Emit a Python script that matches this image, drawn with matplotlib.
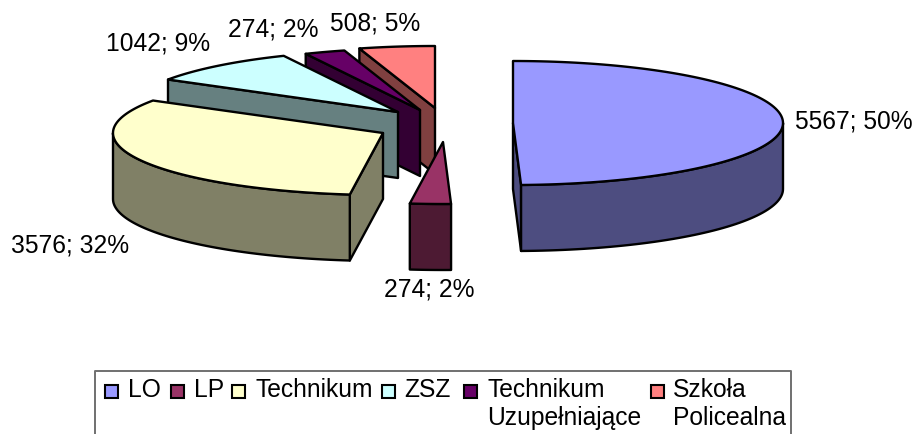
import numpy as np
import matplotlib
matplotlib.use('Agg')
import matplotlib.pyplot as plt
from matplotlib.patches import Polygon, Rectangle

plt.rcParams['font.family'] = ['Liberation Sans', 'DejaVu Sans']

# data
names = ['LO', 'LP', 'Technikum', 'ZSZ', 'Technikum\nUzupełniające', 'Szkoła\nPolicealna']
values = [5567, 274, 3576, 1042, 274, 508]
percents = [50, 2, 32, 9, 2, 5]

colors = ['#9999FF', '#993366', '#FFFFCC', '#CCFFFF', '#660066', '#FF8080']
walls = ['#4D4D80', '#4D1A33', '#808066', '#668080', '#330033', '#804040']

# where each exploded slice has its tip, in pixels
tips = [(513, 123), (443, 142), (383, 133), (398, 112), (420, 110), (435, 108)]
label_pos = [(795, 121), (384, 290), (11, 245), (106, 44), (228, 30), (330, 24)]
legend_marks = [111, 177, 238, 388, 470, 657]
legend_text = [128, 194, 256, 404, 487, 673]

rx, ry, depth = 270, 62, 66
fs = 17.7

fig = plt.figure(figsize=(9.14, 4.34), dpi=100)
ax = fig.add_axes([0, 0, 1, 1])
ax.set_xlim(0, 914)
ax.set_ylim(434, 0)
ax.axis('off')


def rim(tip, a):
    a = np.radians(a)
    return np.column_stack([tip[0] + rx * np.sin(a), tip[1] - ry * np.cos(a)])


def face(pts, color, z):
    ax.add_patch(Polygon(pts, closed=True, facecolor=color, edgecolor='black',
                         linewidth=1.7, joinstyle='round', zorder=z))


angles = np.cumsum([0] + values) / sum(values) * 360

# back slices first, LO last
for z, i in enumerate([5, 4, 3, 2, 1, 0]):
    a1, a2 = angles[i], angles[i + 1]
    tip = tips[i]
    base = z * 10

    # cut face looking at the viewer
    cut = None
    if a2 <= 180:
        cut = a2
    elif a1 >= 180:
        cut = a1
    if cut is not None:
        r = rim(tip, np.array([cut]))[0]
        face([tip, r, (r[0], r[1] + depth), (tip[0], tip[1] + depth)], walls[i], base + 1)

    # curved outer wall, only the part on the front half
    lo, hi = max(a1, 90), min(a2, 270)
    if lo < hi:
        arc = rim(tip, np.linspace(lo, hi, 60))
        low = arc + [0, depth]
        face(np.vstack([arc, low[::-1]]), walls[i], base + 2)

    # top
    arc = rim(tip, np.linspace(a1, a2, 120))
    face(np.vstack([[tip], arc]), colors[i], base + 3)

    ax.text(label_pos[i][0], label_pos[i][1], f'{values[i]}; {percents[i]}%',
            fontsize=fs, color='black', ha='left', va='center', zorder=100)

# legend box, runs off the bottom of the picture
ax.plot([95, 95, 791, 791], [436, 371, 371, 436], color='#707070', linewidth=1.4, zorder=100)
for i, name in enumerate(names):
    ax.add_patch(Rectangle((legend_marks[i] - 6.5, 384.5), 13, 13, facecolor=colors[i],
                           edgecolor='black', linewidth=1.5, zorder=101))
    lines = name.split('\n')
    ax.text(legend_text[i], 390, lines[0], fontsize=fs, ha='left', va='center', zorder=101)
    if len(lines) > 1:
        ax.text(legend_text[i], 418, lines[1], fontsize=fs, ha='left', va='center', zorder=101)

fig.savefig('out.png', dpi=100)
